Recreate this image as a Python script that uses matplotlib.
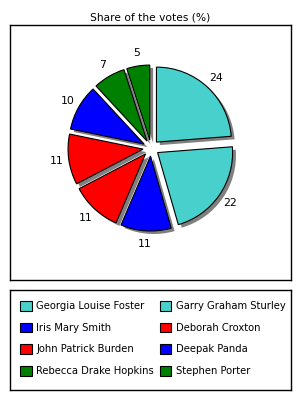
import numpy as np
import matplotlib.pyplot as plt
from matplotlib.patches import Patch

plt.rcParams['font.family'] = 'DejaVu Sans'

# datos
nombres = ['Georgia Louise Foster', 'Garry Graham Sturley', 'Iris Mary Smith',
           'Deborah Croxton', 'John Patrick Burden', 'Deepak Panda',
           'Rebecca Drake Hopkins', 'Stephen Porter']
votos = [24, 22, 11, 11, 11, 10, 7, 5]
colores = ['#48D1CC', '#48D1CC', '#0000FF', '#FF0000', '#FF0000', '#0000FF',
           '#008000', '#008000']
titulo = 'Share of the votes (%)'

#%%
fig = plt.figure(figsize=(3, 4), dpi=100)
fig.text(0.5, 1 - 17/400, titulo, ha='center', va='center', fontsize=7.7)

ax = fig.add_axes([10/300, 1 - 280/400, 281/300, 255/400])
expl = [0.107] * len(votos)

# sombra gris
ax.pie(votos, explode=expl, colors=['#808080'] * len(votos), startangle=90,
       counterclock=False, center=(0.045, -0.04), wedgeprops={'linewidth': 0})
ax.pie(votos, explode=expl, colors=colores, labels=[str(v) for v in votos],
       labeldistance=1.17, startangle=90, counterclock=False,
       wedgeprops={'edgecolor': 'black', 'linewidth': 0.8},
       textprops={'ha': 'center', 'va': 'center', 'fontsize': 7.8})
ax.set_xlim(-141/75, 140/75)
ax.set_ylim(-132/75, 123/75)
ax.set_aspect('auto')
ax.set_frame_on(True)
ax.set_xticks([])
ax.set_yticks([])
for s in ax.spines.values():
    s.set_linewidth(1)

#%%
lax = fig.add_axes([10/300, 10/400, 281/300, 100/400])
lax.set_xticks([])
lax.set_yticks([])
for s in lax.spines.values():
    s.set_linewidth(1)

handles = [Patch(facecolor=c, edgecolor='black', linewidth=0.8, label=n)
           for n, c in zip(nombres, colores)]
kw = dict(loc='upper left', frameon=False, borderpad=0, borderaxespad=0,
          handlelength=1.15, handleheight=1.15, handletextpad=0.45,
          labelspacing=1.12, fontsize=7.2)
leg1 = lax.legend(handles=handles[0::2], bbox_to_anchor=(10/281, 1 - 11/100), **kw)
lax.add_artist(leg1)
lax.legend(handles=handles[1::2], bbox_to_anchor=(150/281, 1 - 11/100), **kw)

plt.savefig('out.png', dpi=100)
